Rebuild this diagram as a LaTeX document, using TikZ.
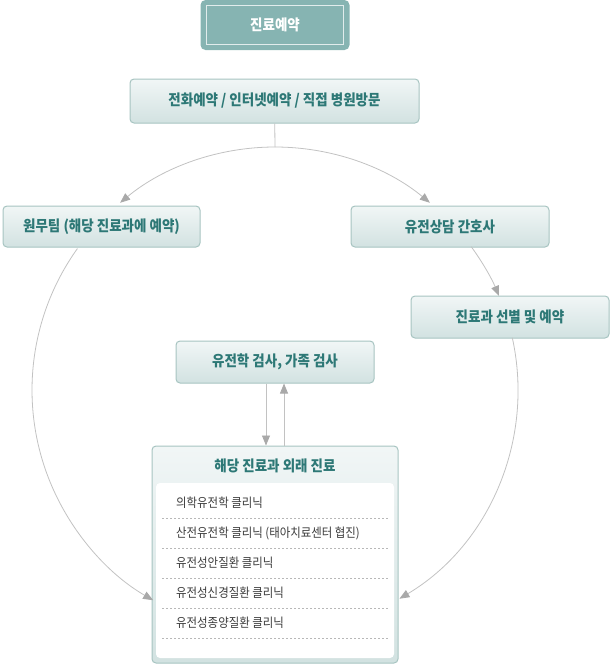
\documentclass[tikz,border=0pt]{standalone}
\usepackage{fontspec}
\setmainfont{Noto Sans CJK KR}[FakeStretch=0.9]
\usetikzlibrary{arrows.meta,calc}

\definecolor{tealfill}{HTML}{86B4B2}
\definecolor{tealtext}{HTML}{2D7876}
\definecolor{boxline}{HTML}{A7C4C1}
\definecolor{boxtop}{HTML}{F1F6F6}
\definecolor{boxbot}{HTML}{D2E2E1}
\definecolor{linkgray}{HTML}{C2C2C2}
\definecolor{tipgray}{HTML}{A9A9A9}
\definecolor{itemtext}{HTML}{3C3C3C}
\definecolor{sepgray}{HTML}{B8B8B8}

\tikzset{
  stepbox/.style={draw=boxline, line width=1pt, rounded corners=4pt, top color=boxtop, bottom color=boxbot, inner sep=0pt, text=tealtext, font=\fontsize{15}{17}\selectfont\bfseries},
  link/.style={draw=linkgray, line width=0.8pt},
  flow/.style={link, -{Triangle[length=10pt,width=8pt,color=tipgray]}},
  clinicitem/.style={anchor=west, inner sep=0pt, text=itemtext, font=\fontsize{12.7}{14}\selectfont},
  sepline/.style={draw=sepgray, line width=0.6pt, dash pattern=on 2pt off 2pt},
}

\begin{document}
\begin{tikzpicture}[x=1pt, y=-1pt]
    \useasboundingbox (0,0) rectangle (610,664);
    \node[fill=tealfill, rounded corners=5pt, minimum width=149pt, minimum height=50pt, inner sep=0pt] (yeyak) at (275,25) {};
    \node[draw=white!75!tealfill, line width=1pt, minimum width=137pt, minimum height=39pt, inner sep=0pt, text=white, font=\fontsize{15}{17}\selectfont\bfseries] (yeyakT) at (275,25) {진료예약};
    \node[stepbox, minimum width=289pt, minimum height=44pt] (jeonhwa) at (274.5,101) {전화예약 / 인터넷예약 / 직접 병원방문};
    \node[stepbox, minimum width=197pt, minimum height=41pt] (wonmu) at (101.5,226.5) {원무팀 (해당 진료과에 예약)};
    \node[stepbox, minimum width=198pt, minimum height=41pt] (sangdam) at (450,226.5) {유전상담 간호사};
    \node[stepbox, minimum width=198pt, minimum height=42pt] (seonbyeol) at (510,317) {진료과 선별 및 예약};
    \node[stepbox, minimum width=198pt, minimum height=42pt] (geomsa) at (275,362) {유전학 검사, 가족 검사};
    \node[stepbox, minimum width=246pt, minimum height=217pt] (oerae) at (275,554.5) {};
    \node[fill=white, rounded corners=4pt, minimum width=238pt, minimum height=175pt, inner sep=0pt] (clinic) at (275,570.5) {};
    \node[inner sep=0pt, text=tealtext, font=\fontsize{15}{17}\selectfont\bfseries] (oeraeT) at (275,466) {해당 진료과 외래 진료};

    \foreach \txt [count=\i] in {의학유전학 클리닉, 산전유전학 클리닉 (태아치료센터 협진), 유전성안질환 클리닉, 유전성신경질환 클리닉, 유전성종양질환 클리닉} {
        \node[clinicitem] (item\i) at (176,473+30*\i) {\txt};
        \draw[sepline] (162,488+30*\i) -- (388,488+30*\i);
    }

    \coordinate (hub) at (275,390);
    \coordinate (top) at ($(hub)+(270:243)$);
    \coordinate (wonmuOut) at ($(hub)+(215.6:243)$);
    \coordinate (sangdamOut) at ($(hub)+(323.9:243)$);
    \coordinate (seonbyeolOut) at ($(hub)+(347.6:243)$);

    \draw[link] (jeonhwa) -- (top);
    \draw[flow] (top) arc[start angle=270, end angle=230.4, radius=243];
    \draw[flow] (top) arc[start angle=270, end angle=309.6, radius=243];
    \draw[flow] (sangdamOut) arc[start angle=323.9, end angle=337.2, radius=243];
    \draw[flow] (wonmuOut) arc[start angle=215.6, end angle=120.1, radius=243];
    \draw[flow] (seonbyeolOut) arc[start angle=347.6, end angle=419.2, radius=243];
    \draw[flow] ([xshift=-9pt]geomsa.south) -- ([xshift=-9pt]oerae.north);
    \draw[flow] ([xshift=9pt]oerae.north) -- ([xshift=9pt]geomsa.south);
\end{tikzpicture}
\end{document}
